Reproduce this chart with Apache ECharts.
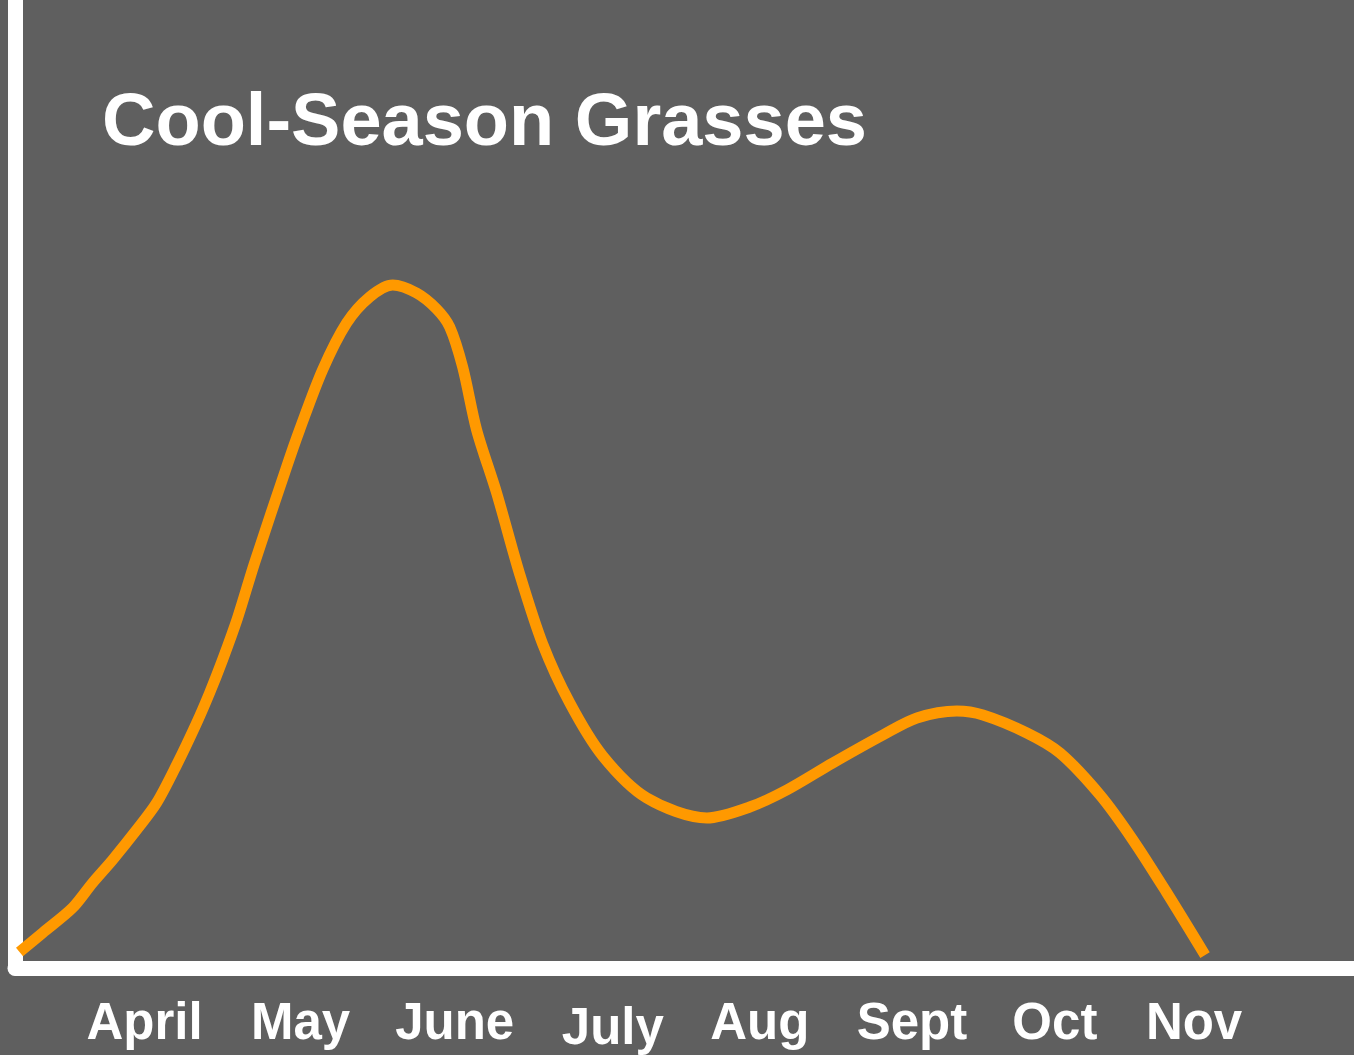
<!DOCTYPE html>
<html>
<head>
<meta charset="utf-8">
<style>
  html, body { margin: 0; padding: 0; background: #5f5f5f; }
  #chart { width: 1354px; height: 1055px; }
</style>
<script src="https://cdn.jsdelivr.net/npm/echarts@6/dist/echarts.min.js"></script>
</head>
<body>
<div id="chart"></div>
<script>
const title = 'Cool-Season Grasses';
const months = ['April', 'May', 'June', 'July', 'Aug', 'Sept', 'Oct', 'Nov'];
// where each month label sits on the month scale (April ≈ 0)
const monthPositions = [-0.053, 0.984, 2.008, 3.059, 4.036, 5.047, 5.997, 6.922];

// growth curve: x = position in months (April ≈ 0), y = relative growth
const growthX = [-0.884, -0.731, -0.532, -0.399, -0.266, -0.106, 0.027, 0.160, 0.293, 0.379, 0.465, 0.565, 0.678, 0.891,
  0.977, 1.130, 1.290, 1.443, 1.596, 1.755, 1.888, 1.975, 2.061, 2.154,
  2.287, 2.440, 2.593, 2.773, 2.992, 3.285, 3.684, 3.969, 4.215, 4.521,
  4.854, 5.080, 5.346, 5.519, 5.811, 6.031, 6.297, 6.516, 6.742, 6.995];
const growthY = [1.65, 3.62, 6.20, 8.78, 11.16, 14.26, 17.05, 20.97, 25.31, 28.41, 31.82, 36.16, 41.84, 51.76,
  55.58, 61.78, 66.63, 69.32, 70.56, 69.73, 68.08, 66.22, 62.09, 55.58,
  49.07, 40.70, 33.47, 27.38, 21.90, 17.56, 15.50, 16.63, 18.39, 21.18,
  24.07, 25.83, 26.55, 26.14, 24.28, 22.21, 17.87, 13.22, 7.75, 1.34];

const curve = growthX.map((x, i) => [x, growthY[i]]);
const labelFont = 'Liberation Sans, Arial, sans-serif';

const chart = echarts.init(document.getElementById('chart'), null, { renderer: 'canvas' });
chart.setOption({
  backgroundColor: '#5f5f5f',
  animation: false,
  title: {
    text: title,
    left: 97,
    top: 83,
    textStyle: {
      color: '#ffffff',
      fontFamily: labelFont,
      fontWeight: 'bold',
      fontSize: 74
    }
  },
  grid: { left: 15, right: 0, top: 0, bottom: 87, containLabel: false },
  xAxis: {
    type: 'value',
    min: -0.914,
    max: 7.985,
    splitLine: { show: false },
    axisTick: { show: false },
    axisLine: { show: true, onZero: false, lineStyle: { color: '#ffffff', width: 15 } },
    axisLabel: {
      customValues: monthPositions,
      margin: 31,
      formatter: function (v) {
        const idx = monthPositions.indexOf(v);
        const name = months[idx];
        return name === 'July' ? '{low|' + name + '}' : '{n|' + name + '}';
      },
      rich: {
        n: { color: '#ffffff', fontFamily: labelFont, fontWeight: 'bold', fontSize: 51, lineHeight: 51 },
        low: { color: '#ffffff', fontFamily: labelFont, fontWeight: 'bold', fontSize: 51, lineHeight: 51, padding: [10, 0, 0, 0] }
      }
    }
  },
  yAxis: {
    type: 'value',
    min: 0,
    max: 100,
    splitLine: { show: false },
    axisTick: { show: false },
    axisLabel: { show: false },
    axisLine: { show: true, onZero: false, lineStyle: { color: '#ffffff', width: 15 } }
  },
  series: [{
    type: 'line',
    data: curve,
    smooth: 0.3,
    smoothConstraint: false,
    showSymbol: false,
    symbol: 'none',
    lineStyle: { color: '#ff9900', width: 11, cap: 'butt', join: 'round' },
    z: 1
  }]
});
</script>
</body>
</html>
